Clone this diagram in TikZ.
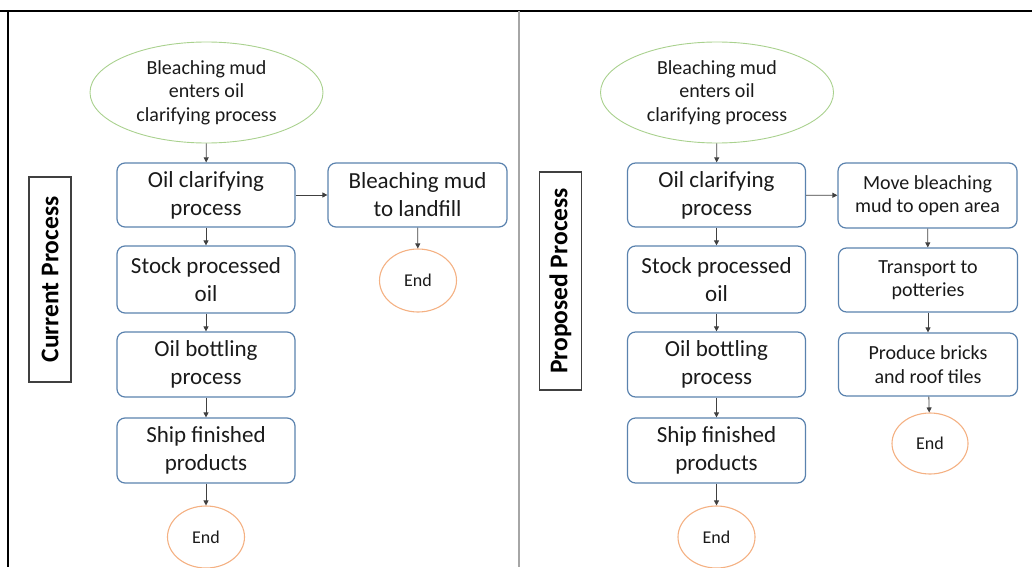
\documentclass[tikz,border=0pt]{standalone}
\usepackage{fontspec}
\setmainfont{Carlito}
\usetikzlibrary{shapes.geometric,arrows.meta}
\definecolor{boxblue}{HTML}{5A82AE}
\definecolor{startgreen}{HTML}{A9D18E}
\definecolor{endorange}{HTML}{F4B183}
\definecolor{divgray}{HTML}{A6A6A6}
\definecolor{arrowgray}{HTML}{404040}
\definecolor{txt}{HTML}{1A1A1A}
\tikzset{
  procbox/.style={draw=boxblue, line width=1.2pt, rounded corners=8pt, minimum width=178pt,
    align=center, inner sep=2pt, text=txt, font=\fontsize{23}{28}\selectfont},
  smallbox/.style={procbox, font=\fontsize{20}{23.5}\selectfont},
  startnode/.style={draw=startgreen, line width=0.9pt, ellipse, minimum width=233pt,
    minimum height=101pt, inner sep=0pt, align=center, text=txt, font=\fontsize{20}{23.7}\selectfont},
  endnode/.style={draw=endorange, line width=1.1pt, ellipse, minimum width=77pt,
    minimum height=62pt, inner sep=0pt, text=txt, font=\fontsize{18}{20}\selectfont},
  sidelabel/.style={draw=black!75, line width=1.2pt, minimum width=42pt, inner sep=0pt},
  sidetext/.style={rotate=90, font=\fontsize{25.5}{28}\selectfont\bfseries},
  flow/.style={draw=arrowgray, line width=0.8pt, -{Triangle[length=5pt,width=5pt]}}
}
\begin{document}
\begin{tikzpicture}[x=1pt,y=-1pt]
\useasboundingbox (0,0) rectangle (1032,567);
% frame and divider
\draw[black, line width=2pt] (0,11) -- (1032,11);
\draw[black, line width=1.5pt] (8,11) -- (8,567);
\draw[divgray, line width=2pt] (519,11) -- (519,567);

% ---- current process ----
\node[sidelabel, minimum height=205pt] (lblA) at (50,279.5) {};
\node[sidetext] (lblAt) at (50,279.5) {Current Process};

\node[startnode] (a0) at (206.5,92.5) {Bleaching mud\\enters oil\\clarifying process};
\node[procbox, minimum height=64pt] (a1) at (206,195) {Oil clarifying\\process};
\node[procbox, minimum height=67pt] (a2) at (206,279.5) {Stock processed\\oil};
\node[procbox, minimum height=65pt] (a3) at (206,364.5) {Oil bottling\\process};
\node[procbox, minimum height=65pt] (a4) at (206,450.5) {Ship finished\\products};
\node[endnode] (a5) at (206,537) {End};
\node[procbox, minimum width=179pt, minimum height=64pt] (b1) at (417.5,195) {Bleaching mud\\to landfill};
\node[endnode, minimum height=63pt] (b2) at (418,280.5) {End};

\draw[flow] (a0) -- (a1);
\draw[flow] (a1) -- (a2);
\draw[flow] (a2) -- (a3);
\draw[flow] (a3) -- (a4);
\draw[flow] (a4) -- (a5);
\draw[flow] (a1) -- (b1);
\draw[flow] (b1) -- (b2);

% ---- proposed process ----
\node[sidelabel, minimum height=218pt] (lblB) at (560.5,281) {};
\node[sidetext] (lblBt) at (560.5,281) {Proposed Process};

\node[startnode] (c0) at (717,92.5) {Bleaching mud\\enters oil\\clarifying process};
\node[procbox, minimum height=64pt] (c1) at (716.5,195) {Oil clarifying\\process};
\node[procbox, minimum height=67pt] (c2) at (716.5,279.5) {Stock processed\\oil};
\node[procbox, minimum height=65pt] (c3) at (716.5,364.5) {Oil bottling\\process};
\node[procbox, minimum height=65pt] (c4) at (716.5,450.5) {Ship finished\\products};
\node[endnode] (c5) at (716.5,537) {End};
\node[smallbox, minimum width=179pt, minimum height=65pt] (d1) at (927.5,195.5) {Move bleaching\\mud to open area};
\node[smallbox, minimum width=179pt, minimum height=64pt] (d2) at (928,280) {Transport to\\potteries};
\node[smallbox, minimum width=179pt, minimum height=63pt] (d3) at (928,364.5) {Produce bricks\\and roof tiles};
\node[endnode, minimum width=76pt, minimum height=61pt] (d4) at (930,443.5) {End};

\draw[flow] (c0) -- (c1);
\draw[flow] (c1) -- (c2);
\draw[flow] (c2) -- (c3);
\draw[flow] (c3) -- (c4);
\draw[flow] (c4) -- (c5);
\draw[flow] (c1) -- (d1);
\draw[flow] (d1) -- (d2);
\draw[flow] (d2) -- (d3);
\draw[flow] (d3) -- (d4);
\end{tikzpicture}
\end{document}
